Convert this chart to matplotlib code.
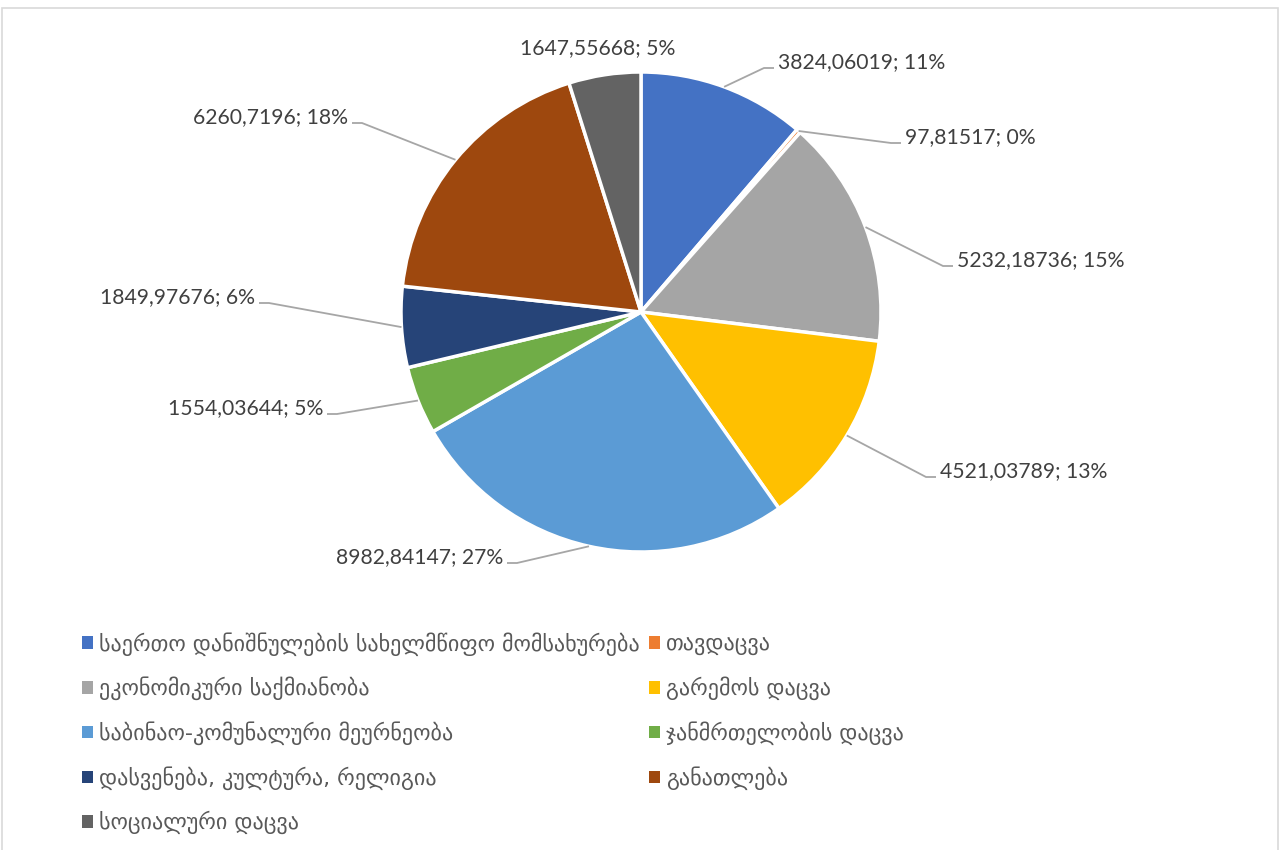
import numpy as np
import matplotlib.pyplot as plt
from matplotlib.patches import Rectangle

categories = [
    "საერთო დანიშნულების სახელმწიფო მომსახურება",
    "თავდაცვა",
    "ეკონომიკური საქმიანობა",
    "გარემოს დაცვა",
    "საბინაო-კომუნალური მეურნეობა",
    "ჯანმრთელობის დაცვა",
    "დასვენება, კულტურა, რელიგია",
    "განათლება",
    "სოციალური დაცვა",
]
values = [3824.06019, 97.81517, 5232.18736, 4521.03789, 8982.84147,
          1554.03644, 1849.97676, 6260.7196, 1647.55668]
colors = ["#4472C4", "#ED7D31", "#A5A5A5", "#FFC000", "#5B9BD5",
          "#70AD47", "#264478", "#9E480E", "#636363"]

# label anchor in image pixels (x, y from top, alignment)
label_pos = [(778, 62, "left"), (905, 137, "left"), (957, 260, "left"),
             (940, 471, "left"), (503, 557, "right"), (323, 408, "right"),
             (255, 297, "right"), (348, 117, "right"), (598, 48, "center")]

W, H = 1280, 850
cx, cy, R = 641, 312, 240


def py(y):
    return H - y


# percentages rounded like Excel (largest remainder)
v = np.array(values)
raw = v / v.sum() * 100
pct = np.floor(raw).astype(int)
rest = 100 - pct.sum()
order = np.argsort(-(raw - pct))
pct[order[:rest]] += 1

fig = plt.figure(figsize=(12.8, 8.5), dpi=100)
ax = fig.add_axes([0, 0, 1, 1])
wedges, _ = ax.pie(values, colors=colors, startangle=90, counterclock=False,
                   radius=R, center=(cx, py(cy)),
                   wedgeprops=dict(edgecolor="white", linewidth=2.5))
ax.set_xlim(0, W)
ax.set_ylim(0, H)
ax.axis("off")

num_font = ["Lato", "DejaVu Sans"]
for i, w in enumerate(wedges):
    tx, ty, ha = label_pos[i]
    txt = f"{str(values[i]).replace('.', ',')}; {pct[i]}%"
    ax.text(tx, py(ty), txt, ha=ha, va="center", fontsize=15.2,
            color="#404040", family=num_font)
    if ha == "center":
        continue
    mid = np.deg2rad((w.theta1 + w.theta2) / 2)
    ex, ey = cx + R * np.cos(mid), py(cy) + R * np.sin(mid)
    sgn = -1 if ha == "left" else 1
    ly = py(ty + 6)
    ax.plot([ex, tx + sgn * 14, tx + sgn * 4], [ey, ly, ly],
            color="#A6A6A6", lw=1.3, solid_capstyle="butt")

# legend filled row by row, two columns
idx = list(range(0, 9, 2)) + list(range(1, 9, 2))
leg = ax.legend([wedges[i] for i in idx], [categories[i] for i in idx],
                ncol=2, loc="upper left", bbox_to_anchor=(82, py(632)),
                bbox_transform=ax.transData, frameon=False,
                fontsize=15.9, handlelength=0.5, handleheight=0.5,
                handletextpad=0.25, labelspacing=0.95, columnspacing=0.45,
                borderpad=0, borderaxespad=0)
for t in leg.get_texts():
    t.set_color("#595959")
    t.set_family(["DejaVu Sans"])
for h in leg.legend_handles:
    h.set_edgecolor("none")

ax.add_patch(Rectangle((2, -5), W - 4, H + 1 - 4, fill=False,
                       edgecolor="#D9D9D9", lw=1.2, clip_on=False))

fig.savefig("out.png", dpi=100)
